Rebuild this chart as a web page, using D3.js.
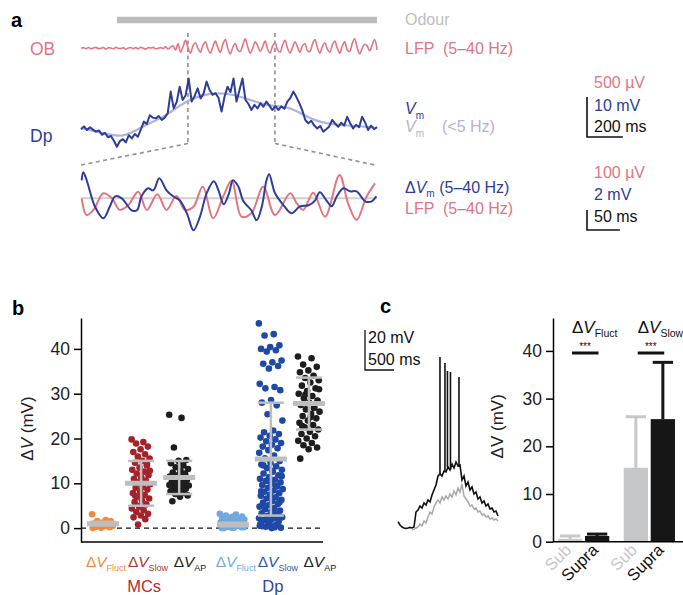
<!DOCTYPE html>
<html>
<head>
<meta charset="utf-8">
<script src="https://cdnjs.cloudflare.com/ajax/libs/d3/7.8.5/d3.min.js"></script>
<style>
body { margin: 0; background: #fff; }
svg { font-family: 'Liberation Sans', Arial, Helvetica, sans-serif; }
</style>
</head>
<body>
<div id="chart"></div>
<script>
// ---- panel a: traces (OB LFP in uV, Dp Vm in mV relative to rest) ----
const obStep = 13.87; // ms per sample
const obLfp = [0, 8, -4, 10, -6, 4, 12, -4, 0, 10, -10, 6, 4, -6, 12, 0, -4, 8, -12, 4,
  10, -4, 8, -6, 14, 0, -10, 8, 4, 12, -6, 0, 10, -4, 18, -8, 14, 30, -20, 60,
  -50, 20, 100, 10, -60, 30, 70, 0, -50, 40, 80, -10, -60, 20, 90, 10, -50, 50, 110, 0,
  -70, 10, 60, -20, -40, 40, 120, 20, -60, 0, 80, 30, -40, 20, 90, -10, -60, 30, 70, -20,
  -50, 40, 100, 0, -60, 10, 80, 20, -50, 30, 60, -30, -40, 50, 110, 10, -60, 20, 70, -10,
  -50, 40, 90, 0, -60, 30, 80, -20, -40, 60, 120, 10, -70, 0, 50, 30, -30, 40, 110, -20];

const vmStep = 16.67;
const vmRaw = [-0.3, 0.4, -0.5, 0.2, -0.4, -0.9, -0.6, -1.7, -1.2, -2.3,
  -2.0, -3.2, -4.7, -3.3, -2.8, -3.6, -1.8, -2.6, -1.5, -2.2,
  -0.4, 1.6, 1.0, 3.2, 2.6, 2.4, 3.0, 2.0, 2.6, 3.7,
  9.1, 4.9, 6.5, 10.3, 7.0, 8.2, 12.4, 6.6, 8.0, 9.9,
  7.4, 8.6, 11.6, 9.5, 8.3, 8.7, 7.5, 4.1, 7.8, 10.3,
  9.0, 12.4, 6.6, 9.5, 12.4, 7.0, 6.0, 4.5, 5.8, 4.9,
  6.2, 5.3, 6.6, 5.6, 4.5, 5.5, 4.5, 5.4, 4.8, 6.6,
  7.5, 9.1, 7.8, 6.2, 4.4, 2.0, 1.2, 1.8, 0.6, -0.1,
  0.5, -0.9, -0.3, 0.4, 2.0, 1.1, 0.3, 1.3, 0.6, 2.8,
  1.2, -0.1, 0.8, 0.2, 2.8, 1.4, -0.5, 0.6, -0.3, 0.2];

const slowStep = 116.7;
const vmSlow = [0, -1.2, -2.6, 0.6, 2.8, 6.8, 8.6, 8.8, 7.2, 5.4, 5.4, 2.0, 0.8, 0.6, 0.1];

const odourOn = 200, odourOff = 1650;
const zoomWin = [596, 1081];

// zoomed 5-40 Hz traces: [ms, value]
const dvmFast = [[1, 1.8], [3.5, 2.6], [8.7, 1.8], [21, -0.8], [34, -2.0], [44, -0.8], [52, 0.2],
  [62, 0], [77, -1.2], [85, -1.2], [92, 0.2], [102, 1.0], [110, 0.8], [119, 2.0], [130, 0.8],
  [140, 0.2], [150, -0.2], [161, -1.5], [171, -3.2], [181, -1.8], [191, 0.5], [202, 1.7],
  [209, 0.8], [217, -0.6], [225, 0.5], [231, 1.8], [239, 1.2], [247, -0.3], [259, -1.2],
  [267, -2.2], [275, -0.8], [282, 1.8], [286, 2.4], [295, 0.5], [308, -0.7], [320, -1.5],
  [333, -0.8], [346, -0.7], [356, -0.2], [363, 0.6], [373, -0.2], [381, -0.8], [389, 0.2],
  [399, 1.0], [409, 0.7], [419, 0.7], [432, -0.3], [442, -0.3], [449, 0.2]];
const lfpFast = [[1, 0], [8.7, -84], [19, -58], [34, 25], [47, 0], [59, -58], [72, -34],
  [87, 33], [100, -58], [116, 20], [130, -58], [145, 12], [158, -58], [171, -42], [185, 58],
  [201, -100], [216, 8], [229, 88], [244, -92], [259, -75], [277, 58], [295, -84], [318, 25],
  [328, -25], [338, -58], [353, 28], [371, -92], [393, 117], [406, -25], [419, -108],
  [434, 8], [447, 75]];

// ---- panel b: dV per cell (mV) ----
const groups = ['MCs', 'Dp'];
const measures = ['Fluct', 'Slow', 'AP'];
const mcFluct = [3.1, 1.8, 1.6, 1.5, 1.2, 1.0, 0.9, 0.7, 0.5, 0.4, 0.3, 0.2, 0.1, 0.0, 0.6, 1.3];
const mcSlow = [19.8, 19.2, 18.9, 18.2, 17.6, 17.0, 16.5, 16.0, 15.5, 15.0, 14.6, 14.0, 13.5, 13.0,
  12.6, 12.2, 11.8, 11.3, 11.0, 10.6, 10.2, 9.8, 9.5, 9.0, 8.6, 8.2, 7.8, 7.4, 7.0, 6.6, 6.2,
  5.8, 5.3, 4.8, 4.4, 4.0, 3.6, 3.2, 2.8, 2.4, 2.0, 0.8, 12.8, 9.2, 7.2, 14.3, 5.0];
const mcAp = [25.3, 24.6, 18.0, 15.2, 15.0, 14.5, 14.0, 13.6, 13.2, 12.8, 12.4, 12.0, 11.8, 11.5,
  11.2, 11.0, 10.8, 10.5, 10.2, 10.0, 9.8, 9.5, 9.2, 9.0, 8.8, 8.5, 8.2, 7.9, 7.6, 7.3, 7.0,
  6.0, 12.2, 10.6, 9.6, 11.4, 8.0];
const dpFluct = [3.2, 3.0, 2.8, 2.6, 2.5, 2.3, 2.2, 2.0, 1.9, 1.8, 1.6, 1.5, 1.4, 1.3, 1.2, 1.1,
  1.0, 0.9, 0.8, 0.7, 0.6, 0.5, 0.4, 0.3, 0.2, 0.1, 0.0, 0.5, 0.3, 0.2, 0.1, 0.0];
const dpSlow = [45.7, 43.3, 43.0, 40.8, 40.4, 40.0, 39.7, 39.4, 37.4, 37.0, 36.7, 36.2, 35.6,
  32.2, 31.5, 31.2, 30.8, 28.6, 28.0, 27.4, 25.4, 24.0, 21.8, 21.4, 21.0, 20.6, 20.2, 19.8,
  19.4, 19.0, 18.6, 18.2, 17.8, 17.4, 16.8, 16.2, 15.6, 15.0, 14.6, 14.2, 13.8, 13.4, 13.0,
  12.6, 12.2, 11.8, 11.4, 11.0, 10.8, 10.5, 10.2, 9.9, 9.6, 9.3, 9.0, 8.7, 8.4, 8.1, 7.8, 7.5,
  7.2, 6.9, 6.6, 6.3, 6.0, 5.7, 5.4, 5.1, 4.8, 4.5, 4.2, 3.9, 3.6, 3.3, 3.0, 2.7, 2.4, 2.1,
  1.8, 1.5, 1.2, 0.9, 0.6, 0.3, 0.1, 0.0, 0.4, 0.8, 1.1, 2.2, 3.4, 4.6, 5.8, 7.0, 8.2, 9.4,
  10.6, 11.6, 12.8, 14.0, 2.5, 1.6, 0.5, 0.2];
const dpAp = [38.3, 37.9, 36.5, 36.0, 35.2, 34.8, 34.0, 33.5, 33.0, 32.5, 31.8, 31.2, 30.6, 30.0,
  29.5, 29.0, 28.5, 28.0, 27.5, 27.0, 26.5, 26.0, 25.5, 25.0, 24.5, 24.0, 23.5, 23.0, 22.5,
  22.0, 21.5, 21.0, 20.5, 20.0, 19.5, 19.0, 18.5, 18.0, 17.6, 15.5, 26.8, 29.8, 31.0, 24.8, 22.8];
const groupMeans = [1.0, 10.0, 11.3, 0.8, 15.4, 27.8];
const groupSds = [0.4, 5.0, 3.7, 0.4, 12.6, 5.8];
const yTicksB = [0, 10, 20, 30, 40];

// ---- panel c: example cell traces (mV above rest) and sub/supra summary ----
const cStep = 34.5;
const supraTrace = [3.2, 1.5, 0.5, 0, -0.2, 0, 0.3, 0, 0.5, 8, 9, 11, 10, 12.5, 11.5, 14, 13,
  16.5, 19, 21.5, 26, 27, 26, 28.5, 28, 30.5, 29, 32, 30, 33, 31, 31.5, 24, 26, 21, 23, 19,
  20.5, 17, 18, 14.5, 15.5, 12.5, 13.5, 11, 12, 9.5, 10, 8, 8.5, 6];
const subStart = 7; // first sample of the subthreshold trace
const subTrace = [-1, -0.7, 0, 0.5, 2, 1, 3.5, 2.5, 5.5, 8, 7, 10.5, 12.5, 14, 12.5, 15.5, 14,
  16, 14.5, 17, 15.5, 18.5, 16.5, 20, 18, 22, 16, 14.5, 13, 11, 11.5, 9.5, 10, 8, 8.5, 6.5, 7,
  5.5, 6, 4.5, 5, 4, 4.5, 3.5];
const spikeTimes = [724, 810, 853, 905, 1052];
const spikePeaks = [85.5, 82.5, 78.5, 78, 75.5];

const barMeasures = ['Fluct', 'Slow'];
const barConds = ['Sub', 'Supra'];
const barMeans = [[0.6, 1.2], [15.5, 25.7]];
const barSds = [[0.6, 0.4], [10.7, 11.9]];
const yTicksC = [0, 10, 20, 30, 40];

// ---- colours ----
const pink = '#e27582', navy = '#2e3d98', paleBlue = '#aeb3e0', odourGrey = '#bcbcbe';
const groupColors = ['#f08a3c', '#a3232a', '#1e1e1e', '#71a9de', '#1f49a6', '#1e1e1e'];
const statGrey = '#bdbec0';

const svg = d3.select('#chart').append('svg')
  .attr('width', 683).attr('height', 595);

function dvLabel(sel, x, y, sub, color, size, anchor, subSize) {
  const t = sel.append('text')
    .attr('x', x).attr('y', y)
    .attr('fill', color)
    .attr('font-size', size)
    .attr('text-anchor', anchor || 'start');
  t.append('tspan').text('Δ');
  t.append('tspan').attr('font-style', 'italic').text('V');
  t.append('tspan').attr('font-size', subSize || size * 0.62).attr('dy', size * 0.25).text(sub);
  return t;
}

function panelLetter(x, y, s) {
  svg.append('text').attr('x', x).attr('y', y)
    .attr('font-size', 20).attr('font-weight', 'bold').text(s);
}

// ================= panel a =================
panelLetter(11, 27, 'a');

const xTop = d3.scaleLinear().domain([0, 1650]).range([81, 377]);
const yOb = d3.scaleLinear().domain([0, 500]).range([48.3, 8.3]);
const yVm = d3.scaleLinear().domain([0, 10]).range([128, 88]);
const xBot = d3.scaleLinear().domain([0, 450]).range([81, 377]);
const yDvm = d3.scaleLinear().domain([0, 2]).range([198.3, 178.3]);
const yLfp = d3.scaleLinear().domain([0, 100]).range([198.3, 178.3]);

const a = svg.append('g');

a.append('line')
  .attr('x1', xTop(odourOn)).attr('x2', xTop(odourOff))
  .attr('y1', 20).attr('y2', 20)
  .attr('stroke', odourGrey).attr('stroke-width', 6.5);

// zoom window guides
const dashed = s => s.attr('stroke', '#8f8f8f').attr('stroke-width', 1.6)
  .attr('stroke-dasharray', '4,3.5').attr('fill', 'none');
zoomWin.forEach(t => {
  a.append('line')
    .attr('x1', xTop(t)).attr('x2', xTop(t)).attr('y1', 33).attr('y2', 143.5)
    .call(dashed);
});
a.append('line')
  .attr('x1', xTop(zoomWin[0])).attr('y1', 143.5).attr('x2', xBot(0)).attr('y2', 165)
  .call(dashed);
a.append('line')
  .attr('x1', xTop(zoomWin[1])).attr('y1', 143.5).attr('x2', xBot(450)).attr('y2', 165.5)
  .call(dashed);

a.append('path')
  .datum(obLfp)
  .attr('d', d3.line().curve(d3.curveCatmullRom).x((d, i) => xTop(i * obStep)).y(d => yOb(d)))
  .attr('fill', 'none').attr('stroke', pink).attr('stroke-width', 1.6);

a.append('path')
  .datum(vmSlow)
  .attr('d', d3.line().curve(d3.curveBasis).x((d, i) => xTop(i * slowStep)).y(d => yVm(d)))
  .attr('fill', 'none').attr('stroke', paleBlue).attr('stroke-width', 2.2);

a.append('path')
  .datum(vmRaw)
  .attr('d', d3.line().x((d, i) => xTop(i * vmStep)).y(d => yVm(d)))
  .attr('fill', 'none').attr('stroke', navy).attr('stroke-width', 2)
  .attr('stroke-linejoin', 'round');

a.append('line')
  .attr('x1', xBot(0)).attr('x2', xBot(450)).attr('y1', yDvm(0)).attr('y2', yDvm(0))
  .attr('stroke', '#d0d0d0').attr('stroke-width', 2);

a.append('path')
  .datum(lfpFast)
  .attr('d', d3.line().curve(d3.curveCatmullRom).x(d => xBot(d[0])).y(d => yLfp(d[1])))
  .attr('fill', 'none').attr('stroke', pink).attr('stroke-width', 2);

a.append('path')
  .datum(dvmFast)
  .attr('d', d3.line().curve(d3.curveCatmullRom).x(d => xBot(d[0])).y(d => yDvm(d[1])))
  .attr('fill', 'none').attr('stroke', navy).attr('stroke-width', 2);

// labels
a.append('text').attr('x', 30).attr('y', 54.5).attr('font-size', 17.5).attr('fill', pink).text('OB');
a.append('text').attr('x', 30).attr('y', 142).attr('font-size', 17.5).attr('fill', navy).text('Dp');

const fs = 16;
a.append('text').attr('x', 405).attr('y', 24.5).attr('font-size', fs).attr('fill', '#bdbdbd').text('Odour');
a.append('text').attr('x', 405).attr('y', 54).attr('font-size', fs).attr('fill', pink)
  .attr('xml:space', 'preserve').text('LFP  (5–40 Hz)');

const vm1 = a.append('text').attr('x', 405).attr('y', 114).attr('font-size', fs).attr('fill', navy);
vm1.append('tspan').attr('font-style', 'italic').text('V');
vm1.append('tspan').attr('font-size', 10).attr('dy', 5).text('m');

const vm2 = a.append('text').attr('x', 405).attr('y', 132).attr('font-size', fs).attr('fill', paleBlue);
vm2.append('tspan').attr('font-style', 'italic').text('V');
vm2.append('tspan').attr('font-size', 10).attr('dy', 5).text('m');
vm2.append('tspan').attr('x', 442).attr('y', 132).text('(<5 Hz)');

const dvm = a.append('text').attr('x', 405).attr('y', 193).attr('font-size', fs).attr('fill', navy);
dvm.append('tspan').text('Δ');
dvm.append('tspan').attr('font-style', 'italic').text('V');
dvm.append('tspan').attr('font-size', 10).attr('dy', 4).text('m');
dvm.append('tspan').attr('dy', -4).text(' (5–40 Hz)');

a.append('text').attr('x', 405).attr('y', 214).attr('font-size', fs).attr('fill', pink)
  .attr('xml:space', 'preserve').text('LFP  (5–40 Hz)');

// scale bars
function scaleBar(x, yb, h, w) {
  a.append('path')
    .attr('d', `M${x},${yb - h}V${yb}H${x + w}`)
    .attr('fill', 'none').attr('stroke', '#111').attr('stroke-width', 1.6);
}
scaleBar(587, 137, yVm(0) - yVm(10), xTop(200) - xTop(0));
scaleBar(587, 230, yDvm(0) - yDvm(2), xBot(50) - xBot(0));

a.append('text').attr('x', 594).attr('y', 88).attr('font-size', fs).attr('fill', pink).text('500 µV');
a.append('text').attr('x', 594).attr('y', 111).attr('font-size', fs).attr('fill', navy).text('10 mV');
a.append('text').attr('x', 594).attr('y', 132).attr('font-size', fs).attr('fill', '#111').text('200 ms');
a.append('text').attr('x', 594).attr('y', 178).attr('font-size', fs).attr('fill', pink).text('100 µV');
a.append('text').attr('x', 594).attr('y', 200).attr('font-size', fs).attr('fill', navy).text('2 mV');
a.append('text').attr('x', 594).attr('y', 222).attr('font-size', fs).attr('fill', '#111').text('50 ms');

// ================= panel b =================
panelLetter(12, 315, 'b');

const b = svg.append('g');
const yB = d3.scaleLinear().domain([-3.1, 46.9]).range([542, 318]);
const xGroup = d3.scaleBand().domain(groups).range([84, 328]).paddingInner(0.12);
const xMeasure = d3.scalePoint().domain(measures).range([0, xGroup.bandwidth()]).padding(0.5);
const xLabel = d3.scalePoint().domain(measures).range([22, 106]);
const cats = [];
groups.forEach(g => measures.forEach(m => cats.push({ g, m })));
const catX = c => xGroup(c.g) + xMeasure(c.m);
const sets = [mcFluct, mcSlow, mcAp, dpFluct, dpSlow, dpAp];
const spreads = [11, 9.5, 10, 13, 12, 11];
const jitter = (i, s) => (((i * 0.6180339) % 1) - 0.5) * 2 * s;
const labelColors = ['#f08a3c', '#b0333a', '#222', '#71a9de', '#2f55ad', '#222'];

b.append('g')
  .attr('transform', 'translate(81,0)')
  .call(d3.axisLeft(yB).tickValues(yTicksB).tickSize(7).tickSizeOuter(0).tickPadding(4))
  .call(g => g.select('.domain').attr('stroke-width', 1.5))
  .call(g => g.selectAll('.tick line').attr('stroke-width', 1.5))
  .call(g => g.selectAll('.tick text').attr('font-size', 17.5).attr('fill', '#222')
    .attr('font-family', "'Liberation Sans', Arial, sans-serif"));

b.append('line')
  .attr('x1', 81).attr('x2', 323).attr('y1', yB(-3.1)).attr('y2', yB(-3.1))
  .attr('stroke', '#000').attr('stroke-width', 1.5);

b.append('line')
  .attr('x1', 81).attr('x2', 323).attr('y1', yB(0)).attr('y2', yB(0))
  .attr('stroke', '#111').attr('stroke-width', 1.4).attr('stroke-dasharray', '5,4');

cats.forEach((c, k) => {
  const cx = catX(c);
  b.append('g').selectAll('circle')
    .data(sets[k])
    .enter()
    .append('circle')
    .attr('cx', (d, i) => cx + jitter(i, spreads[k]))
    .attr('cy', d => yB(d))
    .attr('r', 3.3)
    .attr('fill', groupColors[k]);

  const m = groupMeans[k], s = groupSds[k];
  b.append('line')
    .attr('x1', cx).attr('x2', cx).attr('y1', yB(m - s)).attr('y2', yB(m + s))
    .attr('stroke', statGrey).attr('stroke-width', 2.5);
  [m - s, m + s].forEach(v => {
    b.append('line')
      .attr('x1', cx - 13).attr('x2', cx + 13).attr('y1', yB(v)).attr('y2', yB(v))
      .attr('stroke', statGrey).attr('stroke-width', 2.5);
  });
  b.append('line')
    .attr('x1', cx - 16).attr('x2', cx + 16).attr('y1', yB(m)).attr('y2', yB(m))
    .attr('stroke', statGrey).attr('stroke-width', 5);

  dvLabel(b, xGroup(c.g) + xLabel(c.m), 567, c.m, labelColors[k], 15.5, 'middle', 9);
});

b.append('text').attr('x', xGroup('MCs') + xMeasure('Slow') + 3).attr('y', 591.5)
  .attr('text-anchor', 'middle').attr('font-size', 16.5).attr('fill', '#c1272d').text('MCs');
b.append('text').attr('x', xGroup('Dp') + xMeasure('Slow') + 2).attr('y', 591.5)
  .attr('text-anchor', 'middle').attr('font-size', 16.5).attr('fill', '#2e45a0').text('Dp');

const ylabB = b.append('text')
  .attr('transform', `translate(33,${yB(20) - 10}) rotate(-90)`)
  .attr('text-anchor', 'middle').attr('font-size', 17).attr('fill', '#222');
ylabB.append('tspan').text('Δ');
ylabB.append('tspan').attr('font-style', 'italic').text('V');
ylabB.append('tspan').text(' (mV)');

// ================= panel c =================
panelLetter(380, 313, 'c');
const c = svg.append('g');

const xC = d3.scaleLinear().domain([0, 1725]).range([398, 498]);
const yC = d3.scaleLinear().domain([0, 20]).range([528, 488]);

c.append('path')
  .datum(subTrace)
  .attr('d', d3.line().x((d, i) => xC((i + subStart) * cStep)).y(d => yC(d)))
  .attr('fill', 'none').attr('stroke', '#a8a8a8').attr('stroke-width', 1.5);

c.append('path')
  .datum(supraTrace)
  .attr('d', d3.line().x((d, i) => xC(i * cStep)).y(d => yC(d)))
  .attr('fill', 'none').attr('stroke', '#111').attr('stroke-width', 1.6);

spikeTimes.forEach((t, k) => {
  const base = supraTrace[Math.round(t / cStep)];
  c.append('line')
    .attr('x1', xC(t)).attr('x2', xC(t))
    .attr('y1', yC(base)).attr('y2', yC(spikePeaks[k]))
    .attr('stroke', '#111').attr('stroke-width', 1.6);
});

c.append('path')
  .attr('d', `M365,${370 - (yC(0) - yC(20))}V370H${365 + xC(500) - xC(0)}`)
  .attr('fill', 'none').attr('stroke', '#111').attr('stroke-width', 1.3);
c.append('text').attr('x', 368).attr('y', 343).attr('font-size', 16).attr('fill', '#111').text('20 mV');
c.append('text').attr('x', 368).attr('y', 365).attr('font-size', 16).attr('fill', '#111').text('500 ms');

// bars
const yBar = d3.scaleLinear().domain([0, 46.9]).range([541.7, 318]);
const xBarGroup = d3.scaleBand().domain(barMeasures).range([558, 675]).paddingInner(0.22);
const xBarCond = d3.scaleBand().domain(barConds).range([0, xBarGroup.bandwidth()]).paddingInner(0.1);
const condColors = ['#c6c7c9', '#161616'];

c.append('g')
  .attr('transform', 'translate(553,0)')
  .call(d3.axisLeft(yBar).tickValues(yTicksC).tickSize(7).tickSizeOuter(0).tickPadding(4))
  .call(g => g.select('.domain').attr('stroke-width', 1.5))
  .call(g => g.selectAll('.tick line').attr('stroke-width', 1.5))
  .call(g => g.selectAll('.tick text').attr('font-size', 17.5).attr('fill', '#222')
    .attr('font-family', "'Liberation Sans', Arial, sans-serif"));

barMeasures.forEach((m, gi) => {
  barConds.forEach((cond, ci) => {
    const x0 = xBarGroup(m) + xBarCond(cond);
    const w = xBarCond.bandwidth();
    const v = barMeans[gi][ci], e = v + barSds[gi][ci];
    c.append('rect')
      .attr('x', x0).attr('width', w)
      .attr('y', yBar(v)).attr('height', yBar(0) - yBar(v))
      .attr('fill', condColors[ci]);
    c.append('line')
      .attr('x1', x0 + w / 2).attr('x2', x0 + w / 2).attr('y1', yBar(v)).attr('y2', yBar(e))
      .attr('stroke', condColors[ci]).attr('stroke-width', 3);
    c.append('line')
      .attr('x1', x0 + 2).attr('x2', x0 + w - 2).attr('y1', yBar(e)).attr('y2', yBar(e))
      .attr('stroke', condColors[ci]).attr('stroke-width', 3);
    c.append('text')
      .attr('transform', `translate(${x0 + w / 2 + 2},551) rotate(-45)`)
      .attr('text-anchor', 'end').attr('font-size', 16.5)
      .attr('fill', ci === 0 ? '#c6c7c9' : '#111').text(cond);
  });
  const gx = xBarGroup(m) + 14;
  dvLabel(c, gx, 333, m, '#111', 17, 'start', 10.5);
  c.append('line')
    .attr('x1', gx).attr('x2', gx + 26.5).attr('y1', 353).attr('y2', 353)
    .attr('stroke', '#111').attr('stroke-width', 3);
  c.append('text').attr('x', gx + 13).attr('y', 350).attr('text-anchor', 'middle')
    .attr('font-size', 10).attr('fill', '#111').text('***');
});

c.append('line')
  .attr('x1', 553).attr('x2', 683).attr('y1', yBar(0)).attr('y2', yBar(0))
  .attr('stroke', '#000').attr('stroke-width', 1.5);

const ylabC = c.append('text')
  .attr('transform', `translate(503,${yBar(20) - 20}) rotate(-90)`)
  .attr('text-anchor', 'middle').attr('font-size', 17).attr('fill', '#222');
ylabC.append('tspan').text('ΔV (mV)');
</script>
</body>
</html>
